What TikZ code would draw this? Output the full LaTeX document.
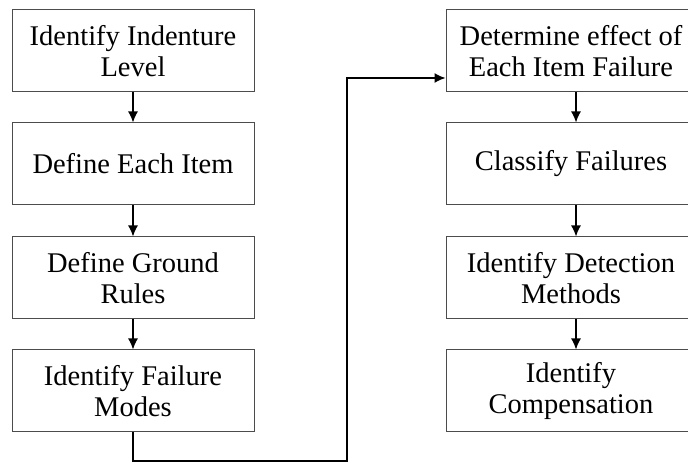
\documentclass[tikz,border=0pt]{standalone}
\usepackage{fontspec}
\setmainfont{Liberation Serif}
\usetikzlibrary{arrows.meta}

\begin{document}
\begin{tikzpicture}[x=1pt, y=1pt,
    stepbox/.style={draw=black!70, line width=1pt, minimum height=82pt, inner sep=0pt,
        align=center, font=\fontsize{28.5}{30.5}\selectfont},
    leftbox/.style={stepbox, minimum width=242pt},
    rightbox/.style={stepbox, minimum width=250pt},
    flow/.style={line width=1.4pt, -{Latex[length=11pt,width=10pt]}}]

    \clip (0,0) rectangle (688,462);

    % left column
    \node[leftbox] (ind) at (133,411) {Identify Indenture\\Level};
    \node[leftbox] (item) at (133,298) {Define Each Item};
    \node[leftbox] (rules) at (133,184) {Define Ground\\Rules};
    \node[leftbox] (modes) at (133,71) {Identify Failure\\Modes};

    % right column
    \node[rightbox] (eff) at (571,411) {Determine effect of\\Each Item Failure};
    \node[rightbox] (cls) at (571,298) {Classify Failures};
    \node[rightbox] (det) at (571,184) {Identify Detection\\Methods};
    \node[rightbox] (comp) at (571,71) {Identify\\Compensation};

    \foreach \a/\b in {ind/item, item/rules, rules/modes}
        \draw[flow] (\a) -- (\b);
    \foreach \a/\b in {eff/cls, cls/det, det/comp}
        \draw[flow] ([xshift=5pt]\a.south) -- ([xshift=5pt]\b.north);

    % feedback to the right column
    \coordinate (turn) at (347,1);
    \draw[flow] (modes.south) |- (turn) |- ([yshift=-27pt]eff.west);
\end{tikzpicture}
\end{document}
